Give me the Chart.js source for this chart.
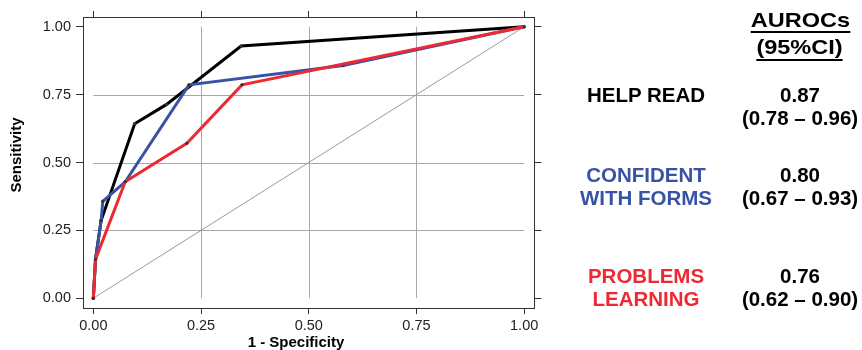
<!DOCTYPE html>
<html>
<head>
<meta charset="utf-8">
<script src="https://cdn.jsdelivr.net/npm/chart.js@4.4.1/dist/chart.umd.min.js"></script>
<style>
  body { margin: 0; background: #fff; }
  #wrap { position: relative; width: 862px; height: 350px; font-family: "Liberation Sans", Arial, sans-serif; }
  #wrap canvas { position: absolute; left: 0; top: 0; }
  .lbl { position: absolute; font-weight: bold; font-size: 20.5px; line-height: 23.3px; text-align: center; white-space: nowrap; }
  .axt { position: absolute; font-weight: bold; font-size: 15px; line-height: 18px; text-align: center; white-space: nowrap; color: #000; }
  .hd { position: absolute; left: 700px; width: 200px; text-align: center; font-weight: bold; font-size: 21px; line-height: 22px; }
  .hd span { display: inline-block; border-bottom: 2px solid #000; transform: scaleX(1.12); }
</style>
</head>
<body>
<div id="wrap">
  <canvas id="roc" width="862" height="350"></canvas>

  <div class="axt" style="left:-44.5px; top:146px; width:120px; transform: rotate(-90deg);">Sensitivity</div>
  <div class="axt" style="left:196px; top:333px; width:200px;">1 - Specificity</div>

  <div class="hd" style="top:8.5px;"><span>AUROCs</span></div>
  <div class="hd" style="top:35.5px;"><span style="padding-bottom:1px">(95%CI)</span></div>

  <div class="lbl" style="left:546px; width:200px; top:83px; color:#000;">HELP READ</div>
  <div class="lbl" style="left:700px; width:200px; top:83px; color:#000;">0.87<br>(0.78 – 0.96)</div>

  <div class="lbl" style="left:546px; width:200px; top:163px; color:#3953a4;">CONFIDENT<br>WITH FORMS</div>
  <div class="lbl" style="left:700px; width:200px; top:163px; color:#000;">0.80<br>(0.67 – 0.93)</div>

  <div class="lbl" style="left:546px; width:200px; top:264px; color:#ed2a33;">PROBLEMS<br>LEARNING</div>
  <div class="lbl" style="left:700px; width:200px; top:264px; color:#000;">0.76<br>(0.62 – 0.90)</div>
</div>

<script>
// valores (1 - especificidad, sensibilidad)
const fprHelpRead = [0, 0.005, 0.018, 0.096, 0.17, 0.343, 1]
const tprHelpRead = [0, 0.143, 0.286, 0.643, 0.714, 0.929, 1]

const fprForms = [0, 0.005, 0.018, 0.022, 0.074, 0.222, 0.58, 1]
const tprForms = [0, 0.143, 0.286, 0.357, 0.429, 0.786, 0.857, 1]

const fprLearning = [0, 0.005, 0.074, 0.217, 0.345, 1]
const tprLearning = [0, 0.143, 0.429, 0.571, 0.786, 1]

const chance = [0, 1]
const axisTicks = [0, 0.25, 0.5, 0.75, 1]
const gridValues = [0.25, 0.5, 0.75]

const toPoints = (xs, ys) => xs.map((x, i) => ({ x: x, y: ys[i] }))

// order menor = se dibuja encima
const curve = (xs, ys, color, order) => ({
    data: toPoints(xs, ys),
    borderColor: color,
    borderWidth: 3,
    pointRadius: 1.6,
    pointBorderWidth: 0,
    pointBackgroundColor: "#333",
    tension: 0,
    order: order,
})

// lineas de grilla solo dentro del rango 0..1
const innerGrid = {
    id: "innerGrid",
    beforeDatasetsDraw(chart) {
        const { ctx, scales: { x, y } } = chart
        ctx.save()
        ctx.strokeStyle = "#a8a8a8"
        ctx.lineWidth = 1
        gridValues.forEach(v => {
            const px = Math.round(x.getPixelForValue(v)) + 0.5
            const py = Math.round(y.getPixelForValue(v)) + 0.5
            ctx.beginPath()
            ctx.moveTo(px, y.getPixelForValue(0))
            ctx.lineTo(px, y.getPixelForValue(1))
            ctx.moveTo(x.getPixelForValue(0), py)
            ctx.lineTo(x.getPixelForValue(1), py)
            ctx.stroke()
        })
        ctx.restore()
    }
}

const setTicks = s => { s.ticks = axisTicks.map(v => ({ value: v })) }

const edgeGrid = { drawOnChartArea: false, drawTicks: true, tickLength: 6, color: "#333" }
const edgeBorder = { display: true, color: "#333", width: 1 }
const tickFont = { family: "Liberation Sans", size: 14.5 }

new Chart(document.getElementById("roc"), {
    type: "line",
    data: {
        datasets: [
            { data: toPoints(chance, chance), borderColor: "#9a9a9a", borderWidth: 1, pointRadius: 0, order: 4 },
            curve(fprHelpRead, tprHelpRead, "#000000", 3),
            curve(fprForms, tprForms, "#3953a4", 2),
            curve(fprLearning, tprLearning, "#ed2a33", 1),
        ]
    },
    options: {
        responsive: false,
        animation: false,
        layout: { padding: 0 },
        plugins: { legend: { display: false }, tooltip: { enabled: false } },
        scales: {
            x: {
                type: "linear", position: "bottom", min: -0.024, max: 1.024,
                afterBuildTicks: setTicks,
                afterFit: s => { s.height = 42 },
                ticks: { font: tickFont, color: "#222", padding: 3, callback: v => v.toFixed(2) },
                grid: edgeGrid, border: edgeBorder,
            },
            x2: {
                type: "linear", position: "top", min: -0.024, max: 1.024,
                afterBuildTicks: setTicks,
                afterFit: s => { s.height = 17 },
                ticks: { display: false },
                grid: edgeGrid, border: edgeBorder,
            },
            y: {
                type: "linear", position: "left", min: -0.036, max: 1.036,
                afterBuildTicks: setTicks,
                afterFit: s => { s.width = 83 },
                ticks: { font: tickFont, color: "#222", padding: 5, callback: v => v.toFixed(2) },
                grid: { ...edgeGrid, tickLength: 7 }, border: edgeBorder,
            },
            y2: {
                type: "linear", position: "right", min: -0.036, max: 1.036,
                afterBuildTicks: setTicks,
                afterFit: s => { s.width = 327.5 },
                ticks: { display: false },
                grid: { ...edgeGrid, tickLength: 7 }, border: edgeBorder,
            },
        }
    },
    plugins: [innerGrid]
})
</script>
</body>
</html>
